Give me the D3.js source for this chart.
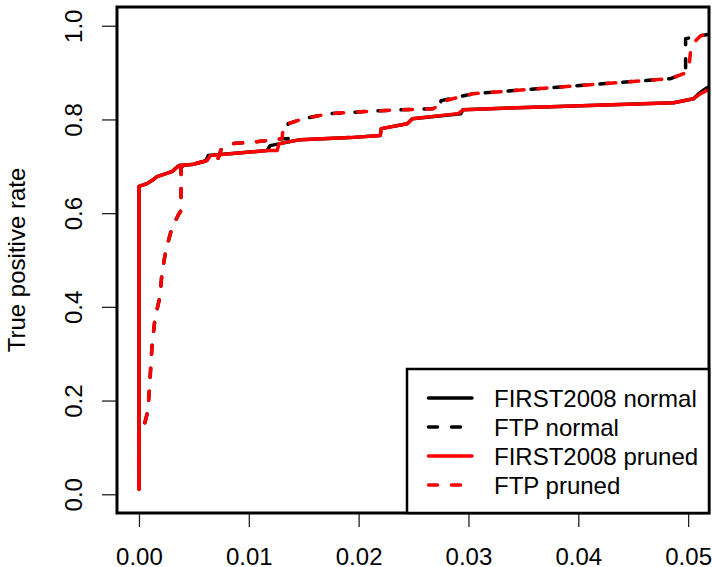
<!DOCTYPE html>
<html>
<head>
<meta charset="utf-8">
<script src="https://cdn.jsdelivr.net/npm/d3@7"></script>
<style>
body { margin: 0; background: #fff; }
text { font-family: "Liberation Sans", Arial, sans-serif; font-size: 24px; fill: #000; }
</style>
</head>
<body>
<div id="chart"></div>
<script>
// tick values
var xTicks = [0, 0.01, 0.02, 0.03, 0.04, 0.05];
var yTicks = [0, 0.2, 0.4, 0.6, 0.8, 1.0];
var seriesNames = ["FIRST2008 normal", "FTP normal", "FIRST2008 pruned", "FTP pruned"];

// [false positive rate, true positive rate]
var first2008Normal = [
	[0, 0.011], [0, 0.657], [0.00073, 0.663], [0.00118, 0.6695], [0.00164, 0.678], [0.003, 0.6887],
	[0.00364, 0.7015], [0.00483, 0.7036], [0.0061, 0.7122], [0.0063, 0.7228], [0.01167, 0.7335],
	[0.01194, 0.7441], [0.01468, 0.7569], [0.01923, 0.7612], [0.02197, 0.7655], [0.02206, 0.7804],
	[0.02443, 0.791], [0.02489, 0.8017], [0.0293, 0.8124], [0.0295, 0.8209], [0.03747, 0.8273],
	[0.04868, 0.8358], [0.0505, 0.8443], [0.05096, 0.855], [0.05159, 0.8657], [0.0525, 0.878]
];
var ftpNormal = [
	[0, 0.011], [0, 0.132], [0.00036, 0.1365], [0.00082, 0.179], [0.001, 0.243], [0.00119, 0.318],
	[0.00146, 0.375], [0.00191, 0.422], [0.0021, 0.473], [0.00246, 0.522], [0.00301, 0.569],
	[0.00356, 0.595], [0.00383, 0.606], [0.00383, 0.699], [0.00483, 0.7036], [0.0062, 0.7122],
	[0.0072, 0.7164], [0.00748, 0.7356], [0.00857, 0.7484], [0.01085, 0.7527], [0.01304, 0.759],
	[0.01358, 0.759], [0.01358, 0.791], [0.01495, 0.8017], [0.01741, 0.8124], [0.02197, 0.8188],
	[0.0268, 0.823], [0.0274, 0.823], [0.0275, 0.8401], [0.03045, 0.855], [0.03291, 0.8593],
	[0.03747, 0.8678], [0.0484, 0.887], [0.04959, 0.8977], [0.04977, 0.8998], [0.04977, 0.9723],
	[0.05114, 0.9787], [0.0525, 0.984]
];
var first2008Pruned = [
	[0, 0.011], [0, 0.657], [0.00073, 0.663], [0.00118, 0.6695], [0.00164, 0.678], [0.003, 0.6887],
	[0.00364, 0.7015], [0.00483, 0.7036], [0.0062, 0.7122], [0.0065, 0.7228], [0.01167, 0.7335],
	[0.01258, 0.7335], [0.01276, 0.7484], [0.01468, 0.7569], [0.01923, 0.7612], [0.02197, 0.7655],
	[0.02206, 0.7804], [0.02443, 0.791], [0.02489, 0.8017], [0.02908, 0.8124], [0.02954, 0.8209],
	[0.03747, 0.8273], [0.04868, 0.8358], [0.0505, 0.8443], [0.05114, 0.855], [0.0522, 0.868],
	[0.0525, 0.872]
];
var ftpPruned = [
	[0, 0.011], [0, 0.132], [0.00036, 0.1365], [0.00082, 0.179], [0.001, 0.243], [0.00119, 0.318],
	[0.00146, 0.375], [0.00191, 0.422], [0.0021, 0.473], [0.00246, 0.522], [0.00301, 0.569],
	[0.00356, 0.595], [0.00383, 0.606], [0.00383, 0.699], [0.00483, 0.7036], [0.0062, 0.7122],
	[0.0072, 0.7164], [0.00748, 0.7356], [0.00857, 0.7484], [0.01085, 0.7527], [0.01304, 0.759],
	[0.01313, 0.787], [0.01495, 0.8017], [0.01741, 0.8124], [0.02197, 0.8188], [0.0268, 0.823],
	[0.02789, 0.8401], [0.03045, 0.855], [0.03291, 0.8593], [0.03747, 0.8678], [0.0484, 0.887],
	[0.04959, 0.8977], [0.05005, 0.9083], [0.05023, 0.9467], [0.05041, 0.9616], [0.05114, 0.9787],
	[0.0525, 0.984]
];

var width = 712, height = 567;
var pLeft = 117, pRight = 709, pTop = 7, pBottom = 513;

var svg = d3.select("#chart").append("svg")
	.attr("width", width)
	.attr("height", height)
	.style("display", "block");

svg.append("rect").attr("width", width).attr("height", height).attr("fill", "#fff");

var x = d3.scaleLinear().domain([-0.002, 0.0519]).range([pLeft, pRight]);
var y = d3.scaleLinear().domain([-0.04, 1.04]).range([pBottom, pTop]);

svg.append("clipPath").attr("id", "plotclip")
	.append("rect")
	.attr("x", pLeft).attr("y", pTop)
	.attr("width", pRight - pLeft).attr("height", pBottom - pTop);

var line = d3.line()
	.x(function (d) { return x(d[0]) })
	.y(function (d) { return y(d[1]) });

var series = [
	{data: first2008Normal, color: "#000", dash: null},
	{data: ftpNormal, color: "#000", dash: "9,14"},
	{data: first2008Pruned, color: "#ff0000", dash: null},
	{data: ftpPruned, color: "#ff0000", dash: "9,14"}
];

var g = svg.append("g").attr("clip-path", "url(#plotclip)");
series.forEach(function (s) {
	g.append("path")
		.attr("d", line(s.data))
		.attr("fill", "none")
		.attr("stroke", s.color)
		.attr("stroke-width", 3.5)
		.attr("stroke-linecap", "round")
		.attr("stroke-linejoin", "round")
		.attr("stroke-dasharray", s.dash);
});

// axes, R style
var xAxis = d3.axisBottom(x).tickValues(xTicks).tickSize(14)
	.tickFormat(d3.format(".2f"));
var gx = svg.append("g").attr("transform", "translate(0," + pBottom + ")").call(xAxis);
gx.select(".domain").remove();
gx.selectAll("line").attr("stroke", "#222").attr("stroke-width", 1.3);
gx.selectAll("text").attr("font-size", 24).attr("font-family", "Liberation Sans, Arial, sans-serif")
	.attr("fill", "#000").attr("dy", null).attr("y", 52);

var yAxis = d3.axisLeft(y).tickValues(yTicks).tickSize(15).tickFormat(d3.format(".1f"));
var gy = svg.append("g").attr("transform", "translate(" + pLeft + ",0)").call(yAxis);
gy.select(".domain").remove();
gy.selectAll("line").attr("stroke", "#222").attr("stroke-width", 1.3);
gy.selectAll("text")
	.attr("font-size", 24).attr("font-family", "Liberation Sans, Arial, sans-serif")
	.attr("fill", "#000")
	.attr("x", null).attr("dy", null)
	.attr("text-anchor", "middle")
	.attr("transform", "translate(-35,0) rotate(-90)");

svg.append("text")
	.attr("transform", "translate(25," + ((pTop + pBottom) / 2) + ") rotate(-90)")
	.attr("text-anchor", "middle")
	.text("True positive rate");

// box
svg.append("rect")
	.attr("x", pLeft).attr("y", pTop)
	.attr("width", pRight - pLeft).attr("height", pBottom - pTop)
	.attr("fill", "none").attr("stroke", "#000").attr("stroke-width", 3);

// legend
var lgX = 407, lgY = 369, rowH = 29;
svg.append("rect")
	.attr("x", lgX).attr("y", lgY)
	.attr("width", pRight - lgX).attr("height", pBottom - lgY)
	.attr("fill", "#fff").attr("stroke", "#000").attr("stroke-width", 2.5);

var lg = svg.append("g");
seriesNames.forEach(function (name, i) {
	var cy = lgY + rowH * (i + 1);
	lg.append("line")
		.attr("x1", 428.5).attr("x2", 472)
		.attr("y1", cy).attr("y2", cy)
		.attr("stroke", series[i].color)
		.attr("stroke-width", 3.5)
		.attr("stroke-linecap", "round")
		.attr("stroke-dasharray", series[i].dash);
	lg.append("text")
		.attr("x", 494).attr("y", cy + 8.5)
		.text(name);
});
</script>
</body>
</html>
